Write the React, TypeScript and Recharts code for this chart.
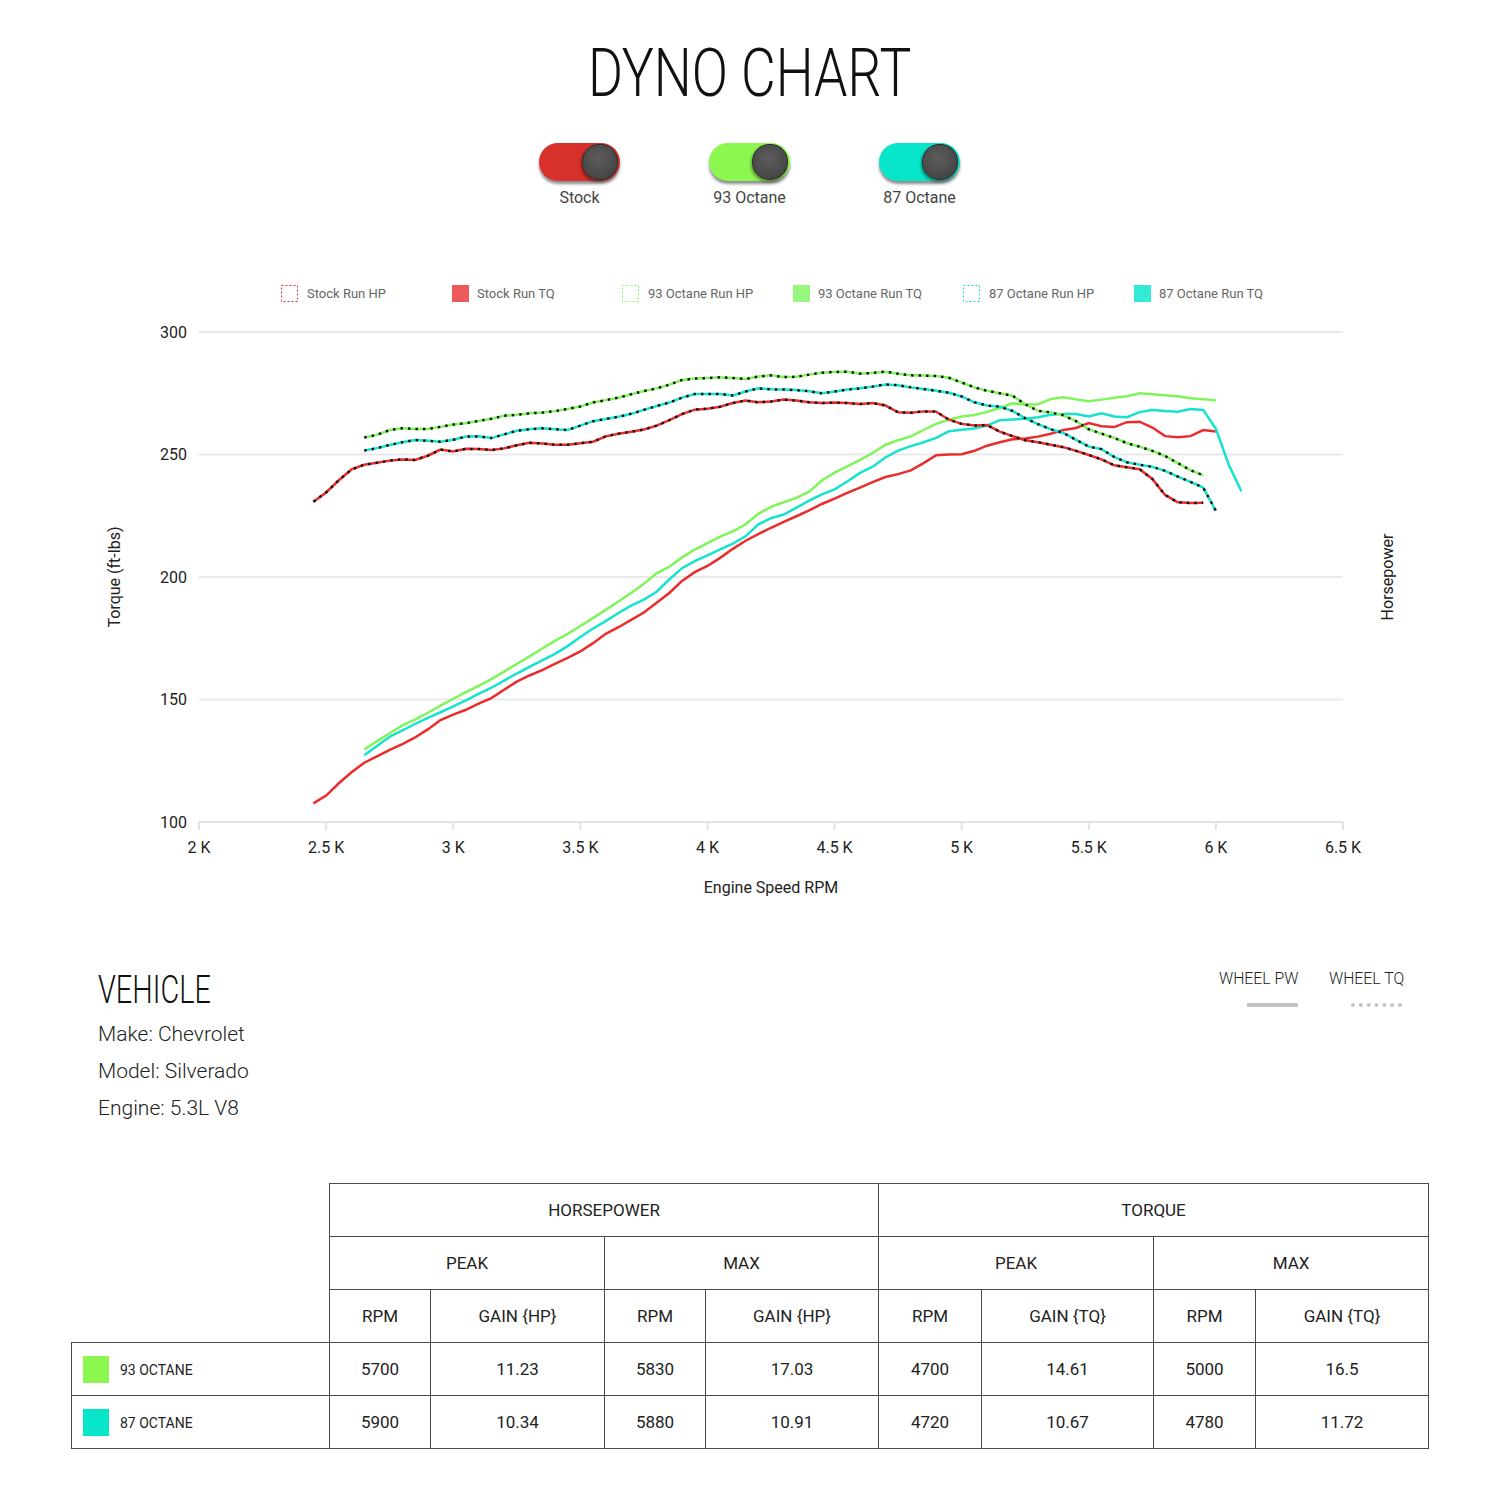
import React from 'react';
import { LineChart, Line, XAxis, YAxis, CartesianGrid } from 'recharts';

// engine speed, every 50 rpm
const RPM = [
  2450, 2500, 2550, 2600, 2650, 2700, 2750, 2800, 2850, 2900,
  2950, 3000, 3050, 3100, 3150, 3200, 3250, 3300, 3350, 3400,
  3450, 3500, 3550, 3600, 3650, 3700, 3750, 3800, 3850, 3900,
  3950, 4000, 4050, 4100, 4150, 4200, 4250, 4300, 4350, 4400,
  4450, 4500, 4550, 4600, 4650, 4700, 4750, 4800, 4850, 4900,
  4950, 5000, 5050, 5100, 5150, 5200, 5250, 5300, 5350, 5400,
  5450, 5500, 5550, 5600, 5650, 5700, 5750, 5800, 5850, 5900,
  5950, 6000, 6050, 6100,
];

const STOCK_TQ = [
  230.7, 234.5, 239.5, 243.9, 245.8, 246.6, 247.5, 248.0, 247.8, 249.5,
  252.0, 251.2, 252.3, 252.2, 251.8, 252.5, 253.8, 254.8, 254.5, 254.0,
  254.0, 254.6, 255.2, 257.4, 258.5, 259.3, 260.2, 261.8, 264.0, 266.5,
  268.3, 268.7, 269.5, 271.0, 272.0, 271.3, 271.6, 272.4, 272.0, 271.3,
  271.0, 271.2, 271.0, 270.6, 271.0, 270.0, 267.2, 267.0, 267.6, 267.5,
  264.2, 262.5, 261.8, 262.0, 259.3, 257.5, 255.8, 255.0, 254.0, 253.0,
  251.5, 249.8, 248.0, 245.6, 244.8, 244.0, 240.0, 233.5, 230.5, 230.2,
  230.3, null, null, null,
];

const STOCK_HP = [
  107.6, 110.8, 115.8, 120.3, 124.2, 126.8, 129.4, 131.8, 134.5, 137.8,
  141.6, 143.8, 145.8, 148.3, 150.6, 154.0, 157.3, 159.8, 162.0, 164.5,
  167.0, 169.6, 173.0, 176.8, 179.5, 182.5, 185.5, 189.5, 193.5, 198.4,
  202.0, 204.5, 207.8, 211.5, 214.8, 217.5, 220.1, 222.5, 224.8, 227.2,
  229.8, 232.0, 234.3, 236.5, 238.7, 240.8, 242.0, 243.5, 246.5, 249.7,
  250.0, 250.1, 251.5, 253.6, 255.0, 256.2, 256.5, 257.3, 258.5, 260.0,
  260.8, 262.8, 261.5, 261.2, 263.2, 263.4, 261.0, 257.5, 257.0, 257.5,
  260.0, 259.4, null, null,
];

const OCT93_TQ = [
  null, null, null, null, 256.9, 258.0, 260.0, 260.7, 260.4, 260.4,
  261.3, 262.2, 262.8, 263.7, 264.6, 265.8, 266.2, 266.8, 267.1, 267.7,
  268.6, 269.6, 271.2, 272.2, 273.2, 274.6, 275.9, 277.0, 278.5, 280.4,
  281.0, 281.2, 281.5, 281.2, 280.8, 281.8, 282.3, 281.6, 281.7, 282.6,
  283.4, 283.7, 283.8, 283.0, 283.3, 283.8, 283.0, 282.3, 282.2, 282.0,
  281.3, 279.4, 277.4, 276.0, 275.0, 274.0, 270.5, 267.8, 267.2, 266.0,
  263.6, 260.3, 258.5, 256.8, 254.6, 253.2, 251.5, 249.4, 246.5, 243.6,
  241.5, null, null, null,
];

const OCT93_HP = [
  null, null, null, null, 129.6, 133.0, 136.2, 139.4, 141.8, 144.6,
  147.5, 150.3, 153.0, 155.6, 158.3, 161.4, 164.5, 167.6, 170.8, 173.9,
  176.8, 180.0, 183.2, 186.6, 190.0, 193.5, 197.2, 201.5, 204.2, 208.0,
  211.2, 213.8, 216.5, 218.6, 221.5, 225.8, 228.6, 230.5, 232.3, 234.8,
  239.4, 242.6, 245.2, 247.8, 250.6, 254.0, 255.8, 257.4, 260.0, 262.5,
  264.2, 265.5, 266.1, 267.4, 269.0, 270.9, 270.3, 270.5, 272.6, 273.4,
  272.5, 271.7, 272.4, 273.2, 273.8, 275.0, 274.6, 274.2, 273.8, 273.0,
  272.6, 272.0, null, null,
];

const OCT87_TQ = [
  null, null, null, null, 251.6, 252.6, 253.9, 255.0, 255.9, 255.6,
  255.2, 256.0, 257.3, 257.4, 256.7, 258.2, 259.7, 260.3, 260.7, 260.3,
  260.0, 261.8, 263.6, 264.5, 265.4, 266.6, 268.2, 269.8, 271.2, 273.2,
  274.7, 274.7, 274.7, 274.1, 275.7, 277.0, 276.6, 276.5, 276.3, 275.8,
  275.0, 275.7, 276.5, 277.0, 277.7, 278.6, 278.3, 277.4, 276.7, 276.0,
  275.2, 273.7, 271.3, 270.0, 269.5, 267.8, 264.8, 262.4, 260.3, 258.8,
  256.0, 253.2, 252.2, 249.0, 246.8, 245.8, 245.0, 243.3, 241.0, 238.8,
  236.5, 227.0, null, null,
];

const OCT87_HP = [
  null, null, null, null, 127.2, 131.0, 134.8, 137.4, 140.0, 142.5,
  144.8, 147.2, 149.6, 152.3, 154.8, 157.7, 160.6, 163.3, 166.0, 168.6,
  171.8, 175.5, 179.0, 182.0, 185.3, 188.3, 190.8, 194.0, 199.0, 203.6,
  206.5, 208.8, 211.3, 213.6, 216.6, 221.5, 224.0, 225.5, 228.3, 231.2,
  233.7, 235.8, 239.0, 242.5, 245.0, 248.8, 251.6, 253.4, 255.0, 256.8,
  259.5, 260.1, 260.6, 261.8, 264.0, 264.3, 264.6, 265.2, 266.2, 266.5,
  266.5, 265.5, 266.8, 265.5, 265.2, 267.3, 268.2, 267.8, 267.5, 268.6,
  268.2, 260.5, 246.0, 235.0,
];

const X_TICKS = [2000, 2500, 3000, 3500, 4000, 4500, 5000, 5500, 6000, 6500];
const Y_TICKS = [100, 150, 200, 250, 300];

const RUNS = ['Stock', '93 Octane', '87 Octane'];
const LINE_COLORS = ['#ea2c2c', '#7ef55a', '#15e3cc'];
const TOGGLE_COLORS = ['#d8302b', '#8cf84f', '#07e6c9'];
const LEGEND_FILL = ['#ec5a5a', '#98f77e', '#33ead7'];

// gains table
const TABLE_ROWS = ['93 OCTANE', '87 OCTANE'];
const HP_PEAK_RPM = [5700, 5900];
const HP_PEAK_GAIN = ['11.23', '10.34'];
const HP_MAX_RPM = [5830, 5880];
const HP_MAX_GAIN = ['17.03', '10.91'];
const TQ_PEAK_RPM = [4700, 4720];
const TQ_PEAK_GAIN = ['14.61', '10.67'];
const TQ_MAX_RPM = [5000, 4780];
const TQ_MAX_GAIN = ['16.5', '11.72'];

const chartData = RPM.map((rpm, i) => ({
  rpm,
  stockTq: STOCK_TQ[i],
  stockHp: STOCK_HP[i],
  oct93Tq: OCT93_TQ[i],
  oct93Hp: OCT93_HP[i],
  oct87Tq: OCT87_TQ[i],
  oct87Hp: OCT87_HP[i],
}));

const KEYS = [
  ['stockHp', 'stockTq'],
  ['oct93Hp', 'oct93Tq'],
  ['oct87Hp', 'oct87Tq'],
];

const XTitle = (props: any) => {
  const vb = props.viewBox || { x: 199, y: 822, width: 1144 };
  return (
    <text x={vb.x + vb.width / 2} y={vb.y + 65} textAnchor="middle" dominantBaseline="central" fontSize={16} fill="#222">
      Engine Speed RPM
    </text>
  );
};

const YTitle = (props: any) => {
  const vb = props.viewBox || { x: 0, y: 332, height: 490 };
  const x = vb.x + props.dx;
  const y = vb.y + vb.height / 2;
  return (
    <text x={x} y={y} transform={`rotate(-90 ${x} ${y})`} textAnchor="middle" dominantBaseline="central" fontSize={16} fill="#222">
      {props.title}
    </text>
  );
};

const Toggle = ({ label, color, left }: { label: string; color: string; left: number }) => (
  <div style={{ position: 'absolute', left, top: 143, width: 81 }}>
    <div
      style={{
        position: 'relative',
        width: 81,
        height: 38,
        borderRadius: 19,
        background: color,
        boxShadow: '0 3px 3px rgba(0,0,0,0.45)',
      }}
    >
      <div
        style={{
          position: 'absolute',
          right: 2,
          top: 1,
          width: 34,
          height: 34,
          borderRadius: 17,
          background: 'radial-gradient(circle at 45% 40%, #5d5d5d 0%, #4a4a4a 60%, #3a3a3a 100%)',
          border: '1px solid #2e2e2e',
          boxShadow: '-1px 2px 3px rgba(0,0,0,0.4)',
        }}
      />
    </div>
    <div style={{ position: 'absolute', left: -40, width: 161, top: 47, textAlign: 'center', fontSize: 16, lineHeight: '16px', color: '#444' }}>
      {label}
    </div>
  </div>
);

const cell: React.CSSProperties = {
  border: '1px solid #4a4a4a',
  textAlign: 'center',
  height: 52,
  padding: 0,
  fontSize: 17,
  color: '#222',
};

export default function App() {
  return (
    <div style={{ position: 'relative', width: 1500, height: 1500, fontFamily: 'Roboto, sans-serif', background: '#fff' }}>
      <style>{'body{margin:0}'}</style>

      <div style={{ position: 'absolute', left: 0, top: 41, width: 1500, textAlign: 'center' }}>
        <span style={{ display: 'inline-block', fontSize: 66, lineHeight: '66px', fontWeight: 300, color: '#111', transform: 'scaleX(0.81)' }}>
          DYNO CHART
        </span>
      </div>

      {RUNS.map((r, i) => (
        <Toggle key={r} label={r} color={TOGGLE_COLORS[i]} left={539 + i * 170} />
      ))}

      {/* legend */}
      {RUNS.map((r, i) => (
        <React.Fragment key={r}>
          <svg style={{ position: 'absolute', left: 281 + i * 341, top: 285 }} width={18} height={18}>
            <rect x={0.5} y={0.5} width={16} height={16} fill="none" stroke={LINE_COLORS[i]} strokeWidth={1} strokeDasharray="2 2" />
          </svg>
          <div style={{ position: 'absolute', left: 307 + i * 341, top: 287, fontSize: 13, lineHeight: '13px', color: '#666' }}>{r} Run HP</div>
          <div style={{ position: 'absolute', left: 452 + i * 341, top: 285, width: 17, height: 17, background: LEGEND_FILL[i] }} />
          <div style={{ position: 'absolute', left: 477 + i * 341, top: 287, fontSize: 13, lineHeight: '13px', color: '#666' }}>{r} Run TQ</div>
        </React.Fragment>
      ))}

      <div style={{ position: 'absolute', left: 0, top: 250 }}>
        <LineChart width={1500} height={680} data={chartData} margin={{ top: 82, right: 69, bottom: 28, left: 99 }}>
          <CartesianGrid yAxisId="tq" vertical={false} stroke="#e9e9e9" strokeWidth={2} />
          <XAxis
            dataKey="rpm"
            type="number"
            domain={[2000, 6500]}
            ticks={X_TICKS}
            tickFormatter={(v: number) => `${v / 1000} K`}
            axisLine={{ stroke: '#e2e2e2', strokeWidth: 2 }}
            tickLine={{ stroke: '#e2e2e2', strokeWidth: 2 }}
            tickSize={8}
            tickMargin={12}
            tick={{ fill: '#222', fontSize: 16 }}
            height={80}
            label={<XTitle />}
          />
          <YAxis
            yAxisId="tq"
            domain={[100, 300]}
            ticks={Y_TICKS}
            axisLine={false}
            tickLine={false}
            tickMargin={6}
            tick={{ fill: '#222', fontSize: 16 }}
            width={100}
            label={<YTitle title="Torque (ft-lbs)" dx={15} />}
          />
          <YAxis
            yAxisId="hp"
            orientation="right"
            domain={[100, 300]}
            ticks={Y_TICKS}
            axisLine={false}
            tickLine={false}
            tick={false}
            width={88}
            label={<YTitle title="Horsepower" dx={44} />}
          />
          {KEYS.map(([hp], i) => (
            <Line key={hp} yAxisId="hp" type="linear" dataKey={hp} stroke={LINE_COLORS[i]} strokeWidth={2.5} dot={false} activeDot={false} isAnimationActive={false} />
          ))}
          {KEYS.map(([, tq], i) => (
            <Line key={tq} yAxisId="tq" type="linear" dataKey={tq} stroke={LINE_COLORS[i]} strokeWidth={2.5} dot={false} activeDot={false} isAnimationActive={false} />
          ))}
          {KEYS.map(([, tq]) => (
            <Line key={tq + '-dash'} yAxisId="tq" type="linear" dataKey={tq} stroke="#151515" strokeWidth={2.5} strokeDasharray="2.5 5" dot={false} activeDot={false} isAnimationActive={false} />
          ))}
        </LineChart>
      </div>

      {/* vehicle */}
      <div style={{ position: 'absolute', left: 98, top: 971, fontSize: 38, lineHeight: '38px', fontWeight: 300, color: '#111', transform: 'scaleX(0.76)', transformOrigin: 'left' }}>
        VEHICLE
      </div>
      {['Make: Chevrolet', 'Model: Silverado', 'Engine: 5.3L V8'].map((t, i) => (
        <div key={t} style={{ position: 'absolute', left: 98, top: 1024 + i * 37, fontSize: 21, lineHeight: '21px', fontWeight: 300, color: '#222' }}>
          {t}
        </div>
      ))}

      <div style={{ position: 'absolute', left: 1219, top: 970, fontSize: 17, lineHeight: '17px', fontWeight: 300, color: '#222', transform: 'scaleX(0.93)', transformOrigin: 'left' }}>
        WHEEL PW
      </div>
      <div style={{ position: 'absolute', left: 1247, top: 1003, width: 51, height: 4, background: '#c4c4c4' }} />
      <div style={{ position: 'absolute', left: 1329, top: 970, fontSize: 17, lineHeight: '17px', fontWeight: 300, color: '#222', transform: 'scaleX(0.93)', transformOrigin: 'left' }}>
        WHEEL TQ
      </div>
      <div style={{ position: 'absolute', left: 1351, top: 1003, width: 51, height: 0, borderTop: '4px dotted #c4c4c4' }} />

      {/* gains table */}
      <table style={{ position: 'absolute', left: 71, top: 1183, borderCollapse: 'collapse', tableLayout: 'fixed', width: 1357 }}>
        <colgroup>
          {[258, 101, 174, 101, 173, 103, 172, 102, 173].map((w, i) => (
            <col key={i} style={{ width: w }} />
          ))}
        </colgroup>
        <tbody>
          <tr>
            <td rowSpan={3} style={{ border: 'none' }} />
            <td colSpan={4} style={cell}>HORSEPOWER</td>
            <td colSpan={4} style={cell}>TORQUE</td>
          </tr>
          <tr>
            <td colSpan={2} style={cell}>PEAK</td>
            <td colSpan={2} style={cell}>MAX</td>
            <td colSpan={2} style={cell}>PEAK</td>
            <td colSpan={2} style={cell}>MAX</td>
          </tr>
          <tr>
            <td style={cell}>RPM</td>
            <td style={cell}>GAIN {'{HP}'}</td>
            <td style={cell}>RPM</td>
            <td style={cell}>GAIN {'{HP}'}</td>
            <td style={cell}>RPM</td>
            <td style={cell}>GAIN {'{TQ}'}</td>
            <td style={cell}>RPM</td>
            <td style={cell}>GAIN {'{TQ}'}</td>
          </tr>
          {TABLE_ROWS.map((r, i) => (
            <tr key={r}>
              <td style={{ ...cell, textAlign: 'left', fontSize: 14 }}>
                <span style={{ display: 'inline-block', width: 26, height: 27, background: TOGGLE_COLORS[i + 1], verticalAlign: 'middle', marginLeft: 11, marginRight: 11 }} />
                <span style={{ verticalAlign: 'middle' }}>{r}</span>
              </td>
              <td style={cell}>{HP_PEAK_RPM[i]}</td>
              <td style={cell}>{HP_PEAK_GAIN[i]}</td>
              <td style={cell}>{HP_MAX_RPM[i]}</td>
              <td style={cell}>{HP_MAX_GAIN[i]}</td>
              <td style={cell}>{TQ_PEAK_RPM[i]}</td>
              <td style={cell}>{TQ_PEAK_GAIN[i]}</td>
              <td style={cell}>{TQ_MAX_RPM[i]}</td>
              <td style={cell}>{TQ_MAX_GAIN[i]}</td>
            </tr>
          ))}
        </tbody>
      </table>
    </div>
  );
}
